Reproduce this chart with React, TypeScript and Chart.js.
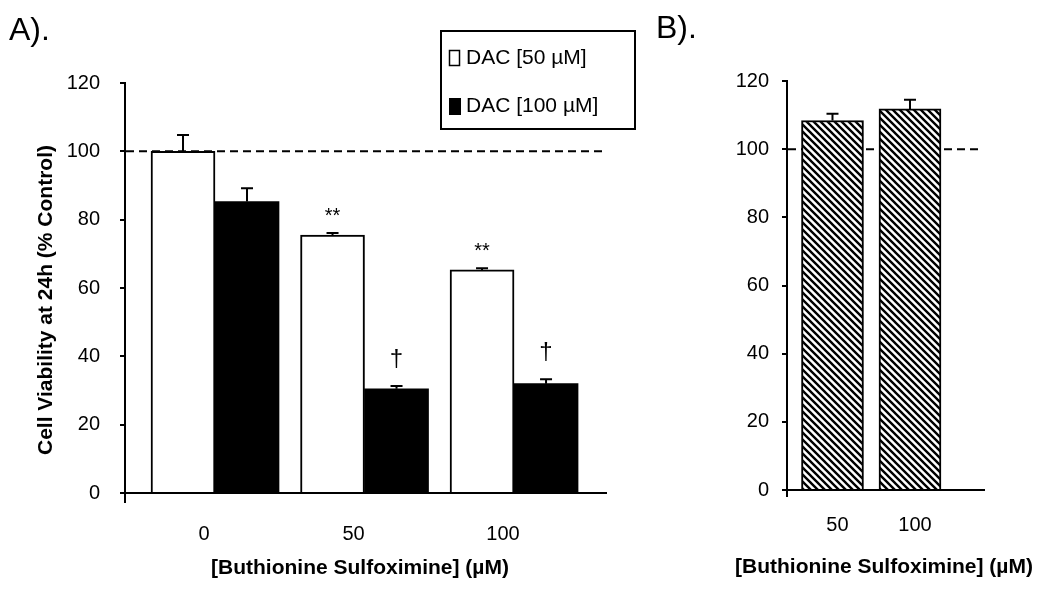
import React, { useEffect, useRef } from 'react';
import { Chart, registerables } from 'chart.js';

Chart.register(...registerables);

// ---------- Panel A data ----------
const bsoDosesA = ['0', '50', '100'];
const dac50Values = [100, 75.5, 65.3];
const dac50Errors = [4.8, 0.6, 0.5];
const dac50Marks = ['', '**', '**'];
const dac100Values = [85.3, 30.5, 32.0];
const dac100Errors = [3.9, 0.8, 1.3];
const dac100Marks = ['', '†', '†'];
const legendLabels = ['DAC [50 µM]', 'DAC [100 µM]'];

// ---------- Panel B data ----------
const bsoDosesB = ['50', '100'];
const bsoAloneValues = [108.4, 111.8];
const bsoAloneErrors = [2.0, 2.7];

// ---------- shared ----------
const yTickValues = [0, 20, 40, 60, 80, 100, 120];
const controlLevel = 100;
const xAxisTitle = '[Buthionine Sulfoximine] (µM)';
const yAxisTitle = 'Cell Viability at 24h (% Control)';
const panelLabels = ['A).', 'B).'];

const FONT = "'Liberation Sans', Arial, Helvetica, sans-serif";
const tickFont = { family: FONT, size: 20 };

const controlLinePlugin = {
  id: 'controlLine',
  beforeDatasetsDraw(chart: any) {
    const { ctx, chartArea, scales } = chart;
    const y = scales.y.getPixelForValue(controlLevel);
    ctx.save();
    ctx.strokeStyle = '#000';
    ctx.lineWidth = 2;
    ctx.setLineDash([8, 5]);
    ctx.beginPath();
    ctx.moveTo(chartArea.left + 1, y);
    ctx.lineTo(chartArea.right - 2, y);
    ctx.stroke();
    ctx.restore();
  },
};

const errorBarPlugin = {
  id: 'errorBars',
  afterDatasetsDraw(chart: any) {
    const { ctx, scales } = chart;
    chart.data.datasets.forEach((ds: any, di: number) => {
      const meta = chart.getDatasetMeta(di);
      meta.data.forEach((bar: any, i: number) => {
        const v = ds.data[i].y;
        const err = ds.errors ? ds.errors[i] : 0;
        const yBase = scales.y.getPixelForValue(v);
        const yTop = scales.y.getPixelForValue(v + err);
        ctx.save();
        ctx.strokeStyle = '#000';
        ctx.lineWidth = 2;
        ctx.beginPath();
        ctx.moveTo(bar.x, yBase);
        ctx.lineTo(bar.x, yTop);
        ctx.moveTo(bar.x - 6, yTop);
        ctx.lineTo(bar.x + 6, yTop);
        ctx.stroke();
        const mark = ds.marks ? ds.marks[i] : '';
        if (mark) {
          ctx.fillStyle = '#000';
          ctx.font = `${ds.markSize}px ${FONT}`;
          ctx.textAlign = 'center';
          ctx.textBaseline = 'alphabetic';
          ctx.fillText(mark, bar.x, yTop - ds.markGap);
        }
        ctx.restore();
      });
    });
  },
};

function overlayPlugin(draw: (ctx: CanvasRenderingContext2D, chart: any) => void) {
  return {
    id: 'overlay',
    afterDraw(chart: any) {
      const ctx = chart.ctx as CanvasRenderingContext2D;
      ctx.save();
      draw(ctx, chart);
      ctx.restore();
    },
  };
}

function xScale(min: number, max: number, labels: string[], height: number, tickLength: number, padding: number, labelOffset: number) {
  return {
    type: 'linear',
    min,
    max,
    offset: false,
    afterBuildTicks: (s: any) => {
      s.ticks = [{ value: min }, ...labels.map((_, i) => ({ value: i }))];
    },
    afterFit: (s: any) => {
      s.height = height;
    },
    ticks: {
      callback: (_v: any, i: number) => (i === 0 ? '' : labels[i - 1]),
      font: tickFont,
      color: '#000',
      padding,
      labelOffset,
      maxRotation: 0,
      minRotation: 0,
      autoSkip: false,
    },
    grid: {
      offset: false,
      drawOnChartArea: false,
      drawTicks: true,
      tickLength,
      lineWidth: 2,
      color: (c: any) => (c.index === 0 ? '#000' : 'rgba(0,0,0,0)'),
    },
    border: { display: true, color: '#000', width: 2 },
  };
}

function yScale(width: number, padding: number) {
  return {
    min: 0,
    max: 120,
    afterBuildTicks: (s: any) => {
      s.ticks = yTickValues.map((v) => ({ value: v }));
    },
    afterFit: (s: any) => {
      s.width = width;
    },
    ticks: { font: tickFont, color: '#000', padding },
    grid: { drawOnChartArea: false, drawTicks: true, tickLength: 5, lineWidth: 2, color: '#000' },
    border: { display: true, color: '#000', width: 2 },
  };
}

function PanelA() {
  const ref = useRef<HTMLCanvasElement>(null);
  useEffect(() => {
    const canvas = ref.current!;
    const overlay = overlayPlugin((ctx) => {
      ctx.fillStyle = '#000';
      ctx.font = `32px ${FONT}`;
      ctx.textAlign = 'left';
      ctx.textBaseline = 'alphabetic';
      ctx.fillText(panelLabels[0], 9, 40);
      ctx.save();
      ctx.translate(46, 300);
      ctx.rotate(-Math.PI / 2);
      ctx.font = `bold 21px ${FONT}`;
      ctx.textAlign = 'center';
      ctx.textBaseline = 'middle';
      ctx.fillText(yAxisTitle, 0, 0);
      ctx.restore();
      ctx.font = `bold 21px ${FONT}`;
      ctx.textAlign = 'center';
      ctx.textBaseline = 'alphabetic';
      ctx.fillText(xAxisTitle, 360, 573.5);
      ctx.strokeStyle = '#000';
      ctx.lineWidth = 2;
      ctx.strokeRect(441, 31, 194, 98);
      ctx.lineWidth = 1.5;
      ctx.fillStyle = '#fff';
      ctx.fillRect(449.5, 50.5, 10, 15);
      ctx.strokeRect(449.5, 50.5, 10, 15);
      ctx.fillStyle = '#000';
      ctx.fillRect(449, 98, 12, 17);
      ctx.font = `21px ${FONT}`;
      ctx.textAlign = 'left';
      ctx.textBaseline = 'middle';
      ctx.fillText(legendLabels[0], 466, 58);
      ctx.fillText(legendLabels[1], 466, 106);
    });
    const chart = new Chart(canvas, {
      type: 'bar',
      data: {
        datasets: [
          {
            label: legendLabels[0],
            data: dac50Values.map((y, i) => ({ x: i, y })),
            backgroundColor: '#fff',
            borderColor: '#000',
            borderWidth: 2,
            barThickness: 64,
            errors: dac50Errors,
            marks: dac50Marks,
            markGap: 11,
            markSize: 20,
          } as any,
          {
            label: legendLabels[1],
            data: dac100Values.map((y, i) => ({ x: i, y })),
            backgroundColor: '#000',
            borderColor: '#000',
            borderWidth: 0,
            barThickness: 64,
            errors: dac100Errors,
            marks: dac100Marks,
            markGap: 20,
            markSize: 24,
          } as any,
        ],
      },
      options: {
        animation: false,
        responsive: false,
        devicePixelRatio: 1,
        layout: { padding: { left: 0, right: 44, top: 83, bottom: 0 } },
        plugins: { legend: { display: false }, tooltip: { enabled: false } },
        scales: {
          x: xScale(-0.602, 2.615, bsoDosesA, 103, 10, 19, -11) as any,
          y: yScale(125, 20) as any,
        },
      },
      plugins: [controlLinePlugin, errorBarPlugin, overlay],
    });
    return () => chart.destroy();
  }, []);
  return (
    <canvas
      ref={ref}
      width={650}
      height={596}
      style={{ position: 'absolute', left: 0, top: 0, width: 650, height: 596 }}
    />
  );
}

function PanelB() {
  const ref = useRef<HTMLCanvasElement>(null);
  useEffect(() => {
    const canvas = ref.current!;
    const ctx0 = canvas.getContext('2d')!;
    const s = 7;
    const tile = document.createElement('canvas');
    tile.width = s;
    tile.height = s;
    const g = tile.getContext('2d')!;
    g.fillStyle = '#fff';
    g.fillRect(0, 0, s, s);
    g.strokeStyle = '#000';
    g.lineWidth = 2.4;
    g.beginPath();
    for (const k of [-1, 0, 1]) {
      g.moveTo(k * s - 1, -1);
      g.lineTo(k * s + s + 1, s + 1);
    }
    g.stroke();
    const hatch = ctx0.createPattern(tile, 'repeat');

    const overlay = overlayPlugin((ctx) => {
      ctx.fillStyle = '#000';
      ctx.font = `32px ${FONT}`;
      ctx.textAlign = 'left';
      ctx.textBaseline = 'alphabetic';
      ctx.fillText(panelLabels[1], 6, 37.5);
      ctx.font = `bold 21px ${FONT}`;
      ctx.textAlign = 'center';
      ctx.fillText(xAxisTitle, 234, 573);
    });
    const chart = new Chart(canvas, {
      type: 'bar',
      data: {
        datasets: [
          {
            label: 'BSO',
            data: bsoAloneValues.map((y, i) => ({ x: i, y })),
            backgroundColor: hatch as any,
            borderColor: '#000',
            borderWidth: 2,
            barThickness: 62,
            errors: bsoAloneErrors,
          } as any,
        ],
      },
      options: {
        animation: false,
        responsive: false,
        devicePixelRatio: 1,
        layout: { padding: { left: 0, right: 66, top: 81, bottom: 0 } },
        plugins: { legend: { display: false }, tooltip: { enabled: false } },
        scales: {
          x: xScale(-0.587, 1.955, bsoDosesB, 106, 7, 16, 5) as any,
          y: yScale(137, 13) as any,
        },
      },
      plugins: [controlLinePlugin, errorBarPlugin, overlay],
    });
    return () => chart.destroy();
  }, []);
  return (
    <canvas
      ref={ref}
      width={400}
      height={596}
      style={{ position: 'absolute', left: 650, top: 0, width: 400, height: 596 }}
    />
  );
}

export default function App() {
  return (
    <div
      style={{
        position: 'absolute',
        left: 0,
        top: 0,
        width: 1050,
        height: 596,
        background: '#fff',
        overflow: 'hidden',
      }}
    >
      <PanelA />
      <PanelB />
    </div>
  );
}
